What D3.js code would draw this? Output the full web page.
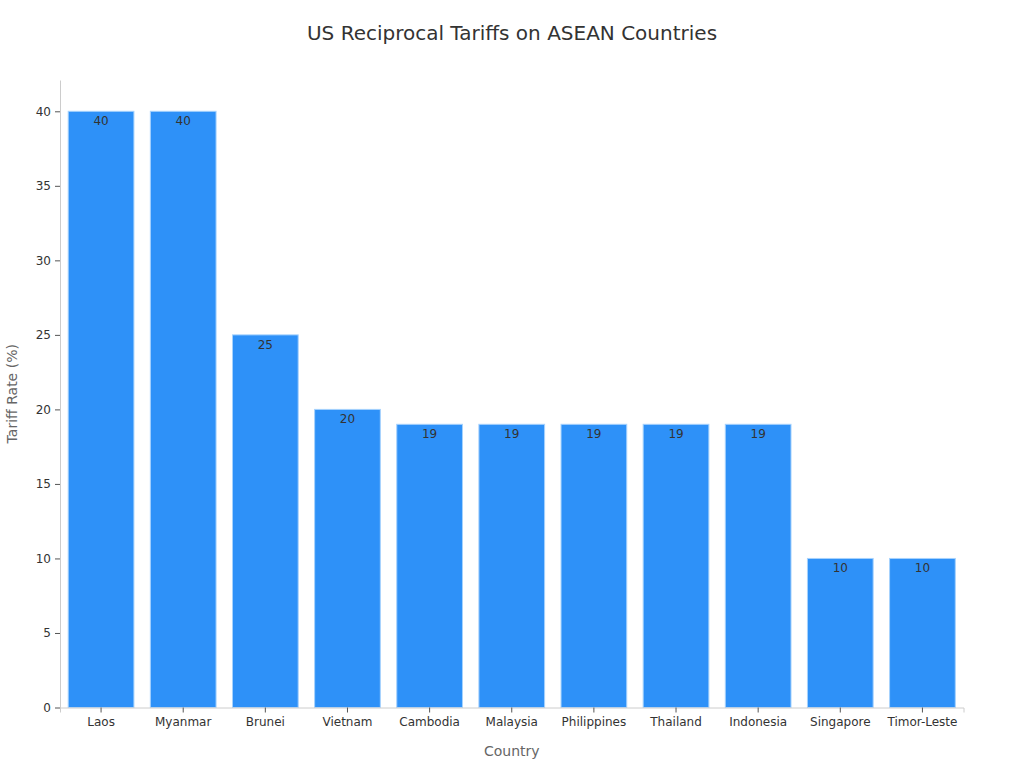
<!DOCTYPE html>
<html lang="en">
<head>
    <meta charset="UTF-8">
    <title>US Reciprocal Tariffs on ASEAN Countries</title>
    <script src="https://cdn.jsdelivr.net/npm/d3@7/dist/d3.min.js"></script>
    <style>
      body { margin: 0; background: #fff; }
      text { font-family: "DejaVu Sans", sans-serif; }
    </style>
</head>
<body>
<script>
  // data
  var countries = ["Laos", "Myanmar", "Brunei", "Vietnam", "Cambodia", "Malaysia",
    "Philippines", "Thailand", "Indonesia", "Singapore", "Timor-Leste"];
  var tariffs = [40, 40, 25, 20, 19, 19, 19, 19, 19, 10, 10];
  var yTicks = [0, 5, 10, 15, 20, 25, 30, 35, 40];

  drawChart();

  function drawChart() {
    var width = 1024;
    var height = 768;
    var margin = {top: 80, right: 60.5, bottom: 60.5, left: 60};

    var svg = d3.select("body")
      .append("svg")
      .attr("width", width)
      .attr("height", height);

    var xScale = d3.scaleBand()
      .domain(countries)
      .range([margin.left, width - margin.right])
      .paddingInner(0.2)
      .paddingOuter(0.1);

    var yScale = d3.scaleLinear()
      .domain([0, 42.1])
      .range([height - margin.bottom, margin.top]);

    // title
    svg.append("text")
      .attr("x", 512)
      .attr("y", 40)
      .attr("text-anchor", "middle")
      .attr("font-size", 20)
      .attr("fill", "#333")
      .text("US Reciprocal Tariffs on ASEAN Countries");

    // bars
    var rows = countries.map(function (c, i) { return {name: c, value: tariffs[i]}; });

    svg.append("g")
      .selectAll("rect")
      .data(rows)
      .enter()
      .append("rect")
      .attr("x", function (d) { return xScale(d.name); })
      .attr("y", function (d) { return yScale(d.value); })
      .attr("width", xScale.bandwidth())
      .attr("height", function (d) { return yScale(0) - yScale(d.value); })
      .attr("fill", "#2e91f8")
      .attr("stroke", "#a6d2fd")
      .attr("stroke-width", 1);

    // value labels
    svg.append("g")
      .selectAll("text")
      .data(rows)
      .enter()
      .append("text")
      .attr("x", function (d) { return xScale(d.name) + xScale.bandwidth() / 2; })
      .attr("y", function (d) { return yScale(d.value) + 14; })
      .attr("text-anchor", "middle")
      .attr("font-size", 12)
      .attr("fill", "#333")
      .text(function (d) { return d.value; });

    // x axis
    var xAxis = svg.append("g")
      .attr("transform", "translate(0," + yScale(0) + ")")
      .call(d3.axisBottom(xScale).tickSize(5).tickPadding(5));
    xAxis.select(".domain").attr("stroke", "#ccc");
    xAxis.selectAll(".tick line").attr("stroke", "#555");
    xAxis.selectAll(".tick text")
      .attr("font-size", 12)
      .attr("font-family", "DejaVu Sans")
      .attr("fill", "#333");

    // y axis
    var yAxis = svg.append("g")
      .attr("transform", "translate(" + margin.left + ",0)")
      .call(d3.axisLeft(yScale).tickValues(yTicks).tickSize(5).tickSizeOuter(0).tickPadding(4));
    yAxis.select(".domain").attr("stroke", "#ccc");
    yAxis.selectAll(".tick line").attr("stroke", "#555");
    yAxis.selectAll(".tick text")
      .attr("font-size", 12)
      .attr("font-family", "DejaVu Sans")
      .attr("fill", "#333");

    // axis titles
    svg.append("text")
      .attr("x", (margin.left + width - margin.right) / 2)
      .attr("y", 756)
      .attr("text-anchor", "middle")
      .attr("font-size", 14)
      .attr("fill", "#666")
      .text("Country");

    svg.append("text")
      .attr("transform", "translate(17," + (margin.top + height - margin.bottom) / 2 + ") rotate(-90)")
      .attr("text-anchor", "middle")
      .attr("font-size", 14)
      .attr("fill", "#666")
      .text("Tariff Rate (%)");
  }
</script>
</body>
</html>
